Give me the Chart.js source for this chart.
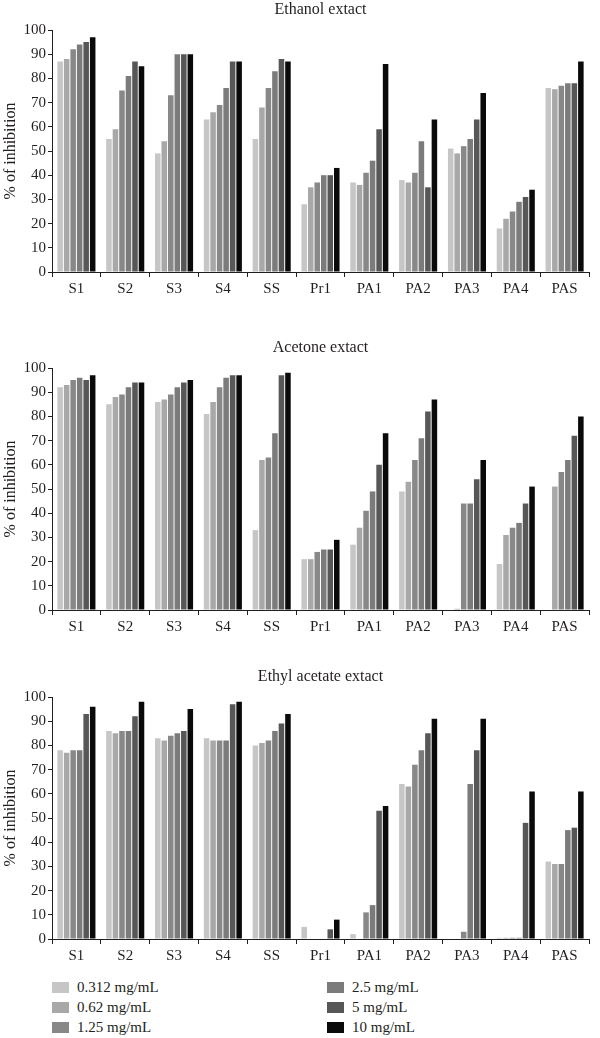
<!DOCTYPE html>
<html>
<head>
<meta charset="utf-8">
<script src="https://cdn.jsdelivr.net/npm/chart.js@4"></script>
<style>
  body { margin: 0; background: #fff; width: 600px; height: 1038px; position: relative; overflow: hidden;
         font-family: "Liberation Serif", "DejaVu Serif", serif; color: #231f20; }
  .panel { position: absolute; left: 0; width: 600px; height: 300px; }
  .leg { position: absolute; font-size: 15px; line-height: 20px; white-space: nowrap; }
  .leg span { display: inline-block; width: 17px; height: 11px; margin-right: 8px; vertical-align: -1px; }
</style>
</head>
<body>
<div class="panel" style="top:0px"><canvas id="c1" width="600" height="300"></canvas></div>
<div class="panel" style="top:338px"><canvas id="c2" width="600" height="300"></canvas></div>
<div class="panel" style="top:667px"><canvas id="c3" width="600" height="300"></canvas></div>
<div id="legend"></div>

<script>
var categories = ['S1', 'S2', 'S3', 'S4', 'SS', 'Pr1', 'PA1', 'PA2', 'PA3', 'PA4', 'PAS'];
var concentrations = ['0.312 mg/mL', '0.62 mg/mL', '1.25 mg/mL', '2.5 mg/mL', '5 mg/mL', '10 mg/mL'];
var yTicks = [0, 10, 20, 30, 40, 50, 60, 70, 80, 90, 100];

// one row per concentration, one value per category
var ethanol = [
    [87, 55, 49, 63, 55, 28, 37, 38, 51, 18, 76],
    [88, 59, 54, 66, 68, 35, 36, 37, 49, 22, 75.5],
    [92, 75, 73, 69, 76, 37, 41, 41, 52, 25, 77],
    [94, 81, 90, 76, 83, 40, 46, 54, 55, 29, 78],
    [95, 87, 90, 87, 88, 40, 59, 35, 63, 31, 78],
    [97, 85, 90, 87, 87, 43, 86, 63, 74, 34, 87]
];
var acetone = [
    [92, 85, 86, 81, 33, 21, 27, 49, 0, 19, 0],
    [93, 88, 87, 86, 62, 21, 34, 53, 0.5, 31, 51],
    [95, 89, 89, 92, 63, 24, 41, 62, 44, 34, 57],
    [96, 92, 92, 96, 73, 25, 49, 71, 44, 36, 62],
    [95, 94, 94, 97, 97, 25, 60, 82, 54, 44, 72],
    [97, 94, 95, 97, 98, 29, 73, 87, 62, 51, 80]
];
var ethylAcetate = [
    [78, 86, 83, 83, 80, 5, 2, 64, 0, 0.5, 32],
    [77, 85, 82, 82, 81, 0, 0, 63, 0, 0.5, 31],
    [78, 86, 84, 82, 82, 0, 11, 72, 3, 0.5, 31],
    [78, 86, 85, 82, 86, 0, 14, 78, 64, 0.5, 45],
    [93, 92, 86, 97, 89, 4, 53, 85, 78, 48, 46],
    [96, 98, 95, 98, 93, 8, 55, 91, 91, 61, 61]
];

var colors = ['#c6c6c6', '#a8a8a8', '#888888', '#7b7b7b', '#575757', '#0a0a0a'];
var ink = '#231f20';
var fontFamily = '"Liberation Serif", "DejaVu Serif", serif';

function makeChart(id, title, rows) {
    var ctx = document.getElementById(id).getContext('2d');
    var datasets = rows.map(function (vals, i) {
        return {
            label: concentrations[i],
            data: vals,
            backgroundColor: colors[i],
            borderWidth: 0,
            categoryPercentage: 0.8,
            barPercentage: 0.85
        };
    });
    return new Chart(ctx, {
        type: 'bar',
        data: { labels: categories, datasets: datasets },
        options: {
            responsive: false,
            animation: false,
            layout: { padding: { left: 0, right: 11, top: 0, bottom: 0 } },
            plugins: {
                legend: { display: false },
                tooltip: { enabled: false },
                title: {
                    display: true,
                    text: title,
                    color: ink,
                    fullSize: false,
                    font: { family: fontFamily, size: 16, weight: 'normal' },
                    padding: { top: 0, bottom: 10.8 }
                }
            },
            scales: {
                x: {
                    grid: { drawOnChartArea: false, offset: true, tickLength: 5, color: ink },
                    border: { color: ink, width: 1 },
                    ticks: { color: ink, padding: 3, font: { family: fontFamily, size: 15 } },
                    afterFit: function (s) { s.height = 28; }
                },
                y: {
                    min: 0,
                    max: 100,
                    afterBuildTicks: function (s) { s.ticks = yTicks.map(function (v) { return { value: v }; }); },
                    grid: { drawOnChartArea: false, tickLength: 4, color: ink },
                    border: { color: ink, width: 1 },
                    ticks: { color: ink, padding: 2, font: { family: fontFamily, size: 15 } },
                    title: {
                        display: true,
                        text: '% of inhibition',
                        color: ink,
                        font: { family: fontFamily, size: 16 },
                        padding: { top: 1, bottom: 0 }
                    },
                    afterFit: function (s) { s.width = 52; }
                }
            }
        }
    });
}

makeChart('c1', 'Ethanol extact', ethanol);
makeChart('c2', 'Acetone extact', acetone);
makeChart('c3', 'Ethyl acetate extact', ethylAcetate);

// legend, two columns of three
var legend = document.getElementById('legend');
concentrations.forEach(function (name, i) {
    var div = document.createElement('div');
    div.className = 'leg';
    div.style.left = (i < 3 ? 52 : 327) + 'px';
    div.style.top = (977 + (i % 3) * 20) + 'px';
    div.innerHTML = '<span style="background:' + colors[i] + '"></span>' + name;
    legend.appendChild(div);
});
</script>
</body>
</html>
